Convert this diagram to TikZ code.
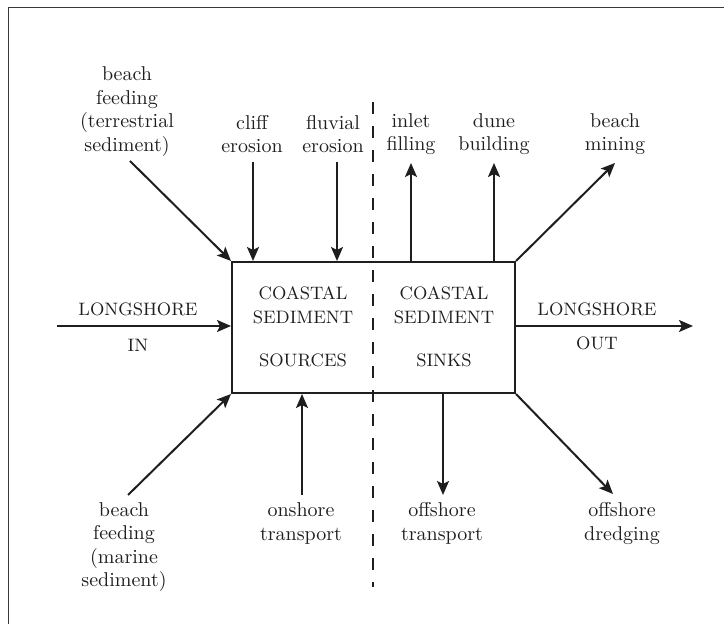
\documentclass[tikz,border=0pt]{standalone}
\usepackage{amsmath}
\usepackage{tikz}
\usetikzlibrary{arrows.meta}
\usepackage{xcolor}
\definecolor{ink}{HTML}{1e1e1e}
\definecolor{frame_grey}{HTML}{383838}

\tikzset{
	flow/.style = {line width=1pt, draw=ink, -{Stealth[length=7pt, width=6pt, inset=1.5pt]}},
	lbl/.style = {align=center, text=ink, inner sep=0pt, font=\fontsize{10}{11.75}\selectfont},
	caps/.style = {align=center, text=ink, inner sep=0pt, font=\fontsize{9}{12}\selectfont},
}

\begin{document}
\begin{tikzpicture}[x=0.5pt, y=-0.5pt]
	\useasboundingbox (0, 0) rectangle (724, 624);
	\draw[frame_grey, line width=0.9pt] (8.5, 624) -- (8.5, 7.5) -- (724, 7.5);
	\node[draw=ink, line width=1pt, minimum width=141.5pt, minimum height=65.5pt, inner sep=0pt] (box) at (373.5, 327.5) {};
	\coordinate (div_top) at (373, 102);
	\coordinate (div_bot) at (373, 587);
	\draw[ink, line width=0.8pt, dash pattern=on 6pt off 6pt] (div_top) -- (div_bot);
	\node[caps] (src) at (303, 326.5) {COASTAL\\SEDIMENT\\[9.5pt]SOURCES};
	\node[caps] (snk) at (444, 326.5) {COASTAL\\SEDIMENT\\[9.5pt]SINKS};
	\node[lbl] (feed_t) at (127, 111.5) {beach\\feeding\\(terrestrial\\sediment)};
	\node[lbl] (cliff) at (252, 134) {cliff\\erosion};
	\node[lbl] (fluvial) at (333, 134) {fluvial\\erosion};
	\node[lbl] (inlet) at (411, 134) {inlet\\filling};
	\node[lbl] (dune) at (494, 134) {dune\\building};
	\node[lbl] (mining) at (615, 134) {beach\\mining};
	\node[lbl] (feed_m) at (124, 547) {beach\\feeding\\(marine\\sediment)};
	\node[lbl] (onshore) at (301, 523.5) {onshore\\transport};
	\node[lbl] (offshore) at (442, 523.5) {offshore\\transport};
	\node[lbl] (dredging) at (622, 523.5) {offshore\\dredging};
	\node[caps] (ls_in_top) at (138, 309) {LONGSHORE};
	\node[caps] (ls_in_bot) at (138, 345) {IN};
	\node[caps] (ls_out_top) at (597, 309) {LONGSHORE};
	\node[caps] (ls_out_bot) at (597, 343) {OUT};
	\coordinate (feed_t_end) at (130, 161);
	\coordinate (cliff_end) at (253, 162);
	\coordinate (fluvial_end) at (337, 162);
	\coordinate (inlet_end) at (411, 163);
	\coordinate (dune_end) at (494, 163);
	\coordinate (mining_end) at (615, 163);
	\coordinate (ls_in_end) at (57, 326);
	\coordinate (ls_out_end) at (693, 326);
	\coordinate (feed_m_end) at (128, 495);
	\coordinate (onshore_end) at (302, 495);
	\coordinate (offshore_end) at (443, 495);
	\coordinate (dredging_end) at (613, 494);
	\draw[flow] (feed_t_end) -- (box.north west);
	\draw[flow] (cliff_end) -- (cliff_end |- box.north);
	\draw[flow] (fluvial_end) -- (fluvial_end |- box.north);
	\draw[flow] (inlet_end |- box.north) -- (inlet_end);
	\draw[flow] (dune_end |- box.north) -- (dune_end);
	\draw[flow] (box.north east) -- (mining_end);
	\draw[flow] (ls_in_end) -- (ls_in_end -| box.west);
	\draw[flow] (ls_out_end -| box.east) -- (ls_out_end);
	\draw[flow] (feed_m_end) -- (box.south west);
	\draw[flow] (onshore_end) -- (onshore_end |- box.south);
	\draw[flow] (offshore_end |- box.south) -- (offshore_end);
	\draw[flow] (box.south east) -- (dredging_end);
\end{tikzpicture}
\end{document}
